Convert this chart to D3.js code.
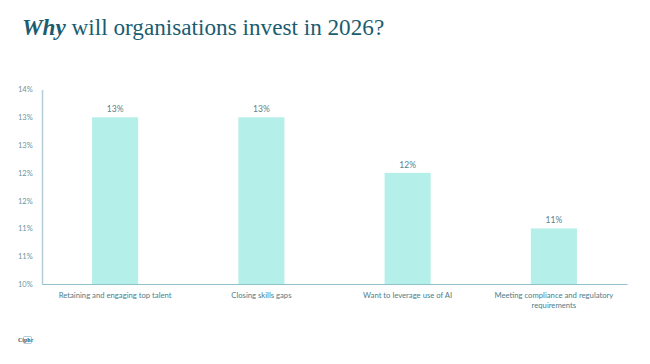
<!DOCTYPE html>
<html><head><meta charset="utf-8">
<script src="https://cdn.jsdelivr.net/npm/d3@7"></script>
<style>body{margin:0;background:#fff}svg{display:block}</style>
</head><body>
<svg id="c" width="650" height="364"></svg>
<script>
const categories = [
  ["Retaining and engaging top talent"],
  ["Closing skills gaps"],
  ["Want to leverage use of AI"],
  ["Meeting compliance and regulatory", "requirements"]
];
const values = [13, 13, 12, 11];
const valueLabels = ["13%", "13%", "12%", "11%"];
const yTicks = [10, 10.5, 11, 11.5, 12, 12.5, 13, 13.5];
const yTickLabels = ["10%", "11%", "11%", "12%", "12%", "13%", "13%", "14%"];

const svg = d3.select("#c");
const mLeft = 42, mRight = 627, mTop = 89.5, mBottom = 284;

// Title
const title = svg.append("text").attr("x", 22).attr("y", 35)
  .attr("font-family", "'Liberation Serif', 'Times New Roman', serif")
  .attr("font-size", 23.2).attr("fill", "#1b5c70");
title.append("tspan").attr("font-style", "italic").attr("font-weight", "bold").text("Why");
title.append("tspan").text(" will organisations invest in 2026?");

const x = d3.scaleBand().domain(d3.range(categories.length)).range([mLeft, mRight]);
const y = d3.scaleLinear().domain([10, 13.5]).range([mBottom, mTop]);
const barW = x.step() * 0.315;

// bars
svg.append("g").selectAll("rect").data(values).join("rect")
  .attr("x", (d, i) => x(i) + x.bandwidth() / 2 - barW / 2)
  .attr("y", d => y(d))
  .attr("width", barW)
  .attr("height", d => y(10) - y(d))
  .attr("fill", "#b5efe9");

// value labels
svg.append("g").selectAll("text").data(values).join("text")
  .attr("x", (d, i) => x(i) + x.bandwidth() / 2)
  .attr("y", d => y(d) - 5)
  .attr("text-anchor", "middle")
  .attr("font-family", "Lato, 'Open Sans', sans-serif")
  .attr("font-size", 8.5).attr("fill", "#5b7f8a")
  .text((d, i) => valueLabels[i]);

// y axis
const yAxis = d3.axisLeft(y).tickValues(yTicks).tickSize(0).tickPadding(10)
  .tickFormat((d, i) => yTickLabels[i]);
const gy = svg.append("g").attr("transform", `translate(${mLeft},0)`).call(yAxis);
gy.select(".domain").attr("stroke", "#b3ccd6").attr("stroke-width", 1.5);
gy.selectAll("text").attr("font-family", "Lato, 'Open Sans', sans-serif")
  .attr("font-size", 7.5).attr("fill", "#6a96a3").attr("text-anchor", "start").attr("x", -24);

// x axis
const xAxis = d3.axisBottom(x).tickSize(0).tickFormat("");
const gx = svg.append("g").attr("transform", `translate(0,${mBottom})`).call(xAxis);
gx.select(".domain").attr("stroke", "#8fc2cb").attr("stroke-width", 1);

// category labels
const cl = svg.append("g").selectAll("text").data(categories).join("text")
  .attr("x", (d, i) => x(i) + x.bandwidth() / 2)
  .attr("y", mBottom + 13.5)
  .attr("text-anchor", "middle")
  .attr("font-family", "Lato, 'Open Sans', sans-serif")
  .attr("font-size", 7.7).attr("fill", "#4e7d8a");
cl.each(function(d, i) {
  d3.select(this).selectAll("tspan").data(d).join("tspan")
    .attr("x", x(i) + x.bandwidth() / 2)
    .attr("dy", (t, j) => j === 0 ? 0 : 10)
    .text(t => t);
});

// logo
const logo = svg.append("g").attr("transform", "translate(18,342)");
logo.append("text").attr("font-family", "'Liberation Serif', serif").attr("font-size", 6)
  .attr("font-weight", "bold").attr("fill", "#1b5c70").text("Ciphr");
logo.append("rect").attr("x", 5.5).attr("y", -5.5).attr("width", 8).attr("height", 7)
  .attr("fill", "none").attr("stroke", "#7fa9c0").attr("stroke-width", 0.6).attr("rx", 1);
</script>
</body></html>
